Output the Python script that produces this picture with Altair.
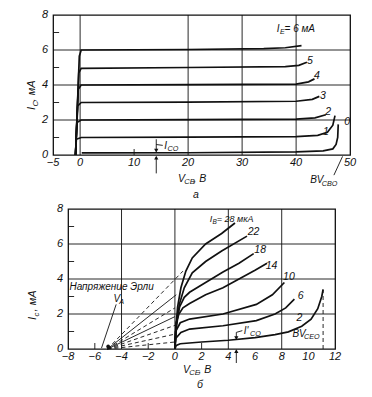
import altair as alt
import pandas as pd

FONT = "Liberation Sans"
INK = "#111111"

# ---------------- (a) common-base characteristics ----------------
cb_x_ticks = [-5, 0, 10, 20, 30, 40, 50]
cb_y_ticks = [0, 2, 4, 6, 8]
cb_vgrid = [0, 20, 30, 40]
cb_hgrid = [2, 4, 6]
cb_minor_y = [1, 3, 5, 7]
cb_minor_x = [10]

cb_names = ["0", "1", "2", "3", "4", "5", "6"]
cb_v0 = [0.3, 20, 40, 45, 46.8, 47.4, 47.7, 47.8]
cb_i0 = [0.12, 0.13, 0.18, 0.24, 0.35, 0.6, 1.0, 1.75]
cb_v1 = [-0.85, -0.7, 0.2, 20, 40, 44, 45.8, 46.8, 47.2]
cb_i1 = [0, 0.9, 1.0, 1.02, 1.05, 1.12, 1.3, 1.7, 2.25]
cb_v2 = [-0.85, -0.6, 0.2, 20, 40, 43.5, 45.5]
cb_i2 = [0, 1.85, 2.0, 2.02, 2.05, 2.12, 2.3]
cb_v3 = [-0.85, -0.45, 0.2, 20, 40, 43, 44.3]
cb_i3 = [0, 2.8, 3.0, 3.02, 3.07, 3.18, 3.35]
cb_v4 = [-0.85, -0.35, 0.2, 20, 40, 42.3, 43.4]
cb_i4 = [0, 3.75, 4.0, 4.02, 4.05, 4.18, 4.35]
cb_v5 = [-0.85, -0.25, 0.2, 20, 38, 40.5, 42]
cb_i5 = [0, 4.7, 4.95, 5.0, 5.05, 5.12, 5.3]
cb_v6 = [-0.85, -0.15, 0.2, 20, 34, 38, 41]
cb_i6 = [0, 5.65, 6.0, 6.03, 6.08, 6.13, 6.25]

# ---------------- (б) common-emitter characteristics ----------------
ce_x_ticks = [-8, -6, -4, -2, 0, 2, 4, 6, 8, 10, 12]
ce_y_ticks = [0, 2, 4, 6, 8]
ce_vgrid = [-4, 0, 4, 8]
ce_hgrid = [2, 4, 6]
ce_minor_y = [1, 3, 5, 7]
ce_minor_x = [-6, -2, 2]

ce_names = ["28", "22", "18", "14", "10", "6", "2"]
ce_v28 = [0, 0.05, 0.2, 0.45, 0.82, 1.3, 2.3, 3.5, 4.5]
ce_i28 = [0, 1.0, 2.4, 3.5, 4.45, 5.2, 6.0, 6.6, 7.2]
ce_v22 = [0, 0.08, 0.33, 0.7, 1.3, 2.3, 3.5, 5.4]
ce_i22 = [0, 1.0, 2.55, 3.5, 4.35, 5.0, 5.6, 6.45]
ce_v18 = [0, 0.1, 0.35, 0.7, 1.1, 2.3, 3.6, 4.8, 5.9]
ce_i18 = [0, 1.5, 2.4, 2.95, 3.24, 3.8, 4.4, 4.9, 5.45]
ce_v14 = [0, 0.1, 0.3, 0.6, 1.1, 2.3, 3.6, 4.8, 6.0, 6.9]
ce_i14 = [0, 1.5, 2.0, 2.35, 2.6, 3.1, 3.5, 4.0, 4.5, 4.9]
ce_v10 = [0, 0.05, 0.4, 1.1, 3.6, 6.1, 7.3, 8.2]
ce_i10 = [0, 1.0, 1.5, 1.71, 2.0, 2.55, 3.1, 3.8]
ce_v6 = [0, 0.05, 0.45, 1.1, 3.6, 6.1, 7.5, 8.3, 8.95]
ce_i6 = [0, 0.6, 0.95, 1.14, 1.33, 1.62, 2.0, 2.35, 2.85]
ce_v2 = [0, 0.1, 0.4, 2, 4, 6, 7.5, 8.5, 9.5, 10.2, 10.7, 11.0, 11.1]
ce_i2 = [0, 0.2, 0.3, 0.4, 0.5, 0.65, 0.82, 0.98, 1.3, 1.7, 2.3, 3.0, 3.4]

# Early-voltage extrapolation fan
fan_v_start = -5.05
fan_v_end = [0.6, 0.1, 0, 0, 0, 0, 0]
fan_i_end = [4.45, 3.1, 2.35, 1.85, 1.35, 0.85, 0.4]
fan_dashed = [True, False, True, False, True, True, True]
bv_ceo_v = 11.1
bv_ceo_i = 3.4


def curves_df(names, vs, is_):
    rows = []
    for n, v, i in zip(names, vs, is_):
        for k, (a, b) in enumerate(zip(v, i)):
            rows.append(dict(curve=n, v=a, i=b, k=k))
    return pd.DataFrame(rows)


def one(**kw):
    return pd.DataFrame({k: [v] for k, v in kw.items()})


NARROW = set("I1 ,.'-")


def seg_width(text, size):
    return sum((0.32 if c in NARROW else 0.58) * size for c in text)


def rich(segs, xenc, yenc, size=10.5, angle=0):
    """segs: list of (text, is_subscript). Returns list of text layers."""
    layers = []
    dx = 0.0
    for text, sub in segs:
        s = size * 0.72 if sub else size
        layers.append(
            alt.Chart(one(t=text)).mark_text(
                text=text, align="left", baseline="middle", dx=dx,
                dy=(size * 0.32 if sub else 0), fontSize=s, fontStyle="italic",
                font=FONT, color=INK, angle=angle,
            ).encode(x=xenc, y=yenc)
        )
        dx += seg_width(text, s) + (0.5 if sub else 0)
    return layers


def spacer(px):
    return alt.Chart(one(t=0)).mark_rule(strokeOpacity=0, color="white").encode(
        x=alt.value(px), x2=alt.value(px + 1), y=alt.value(40))


def X(field, xs):
    return alt.X(field, scale=xs, axis=None, title=None)


def Y(field, ys):
    return alt.Y(field, scale=ys, axis=None, title=None)


def fmt(v):
    return ("−" + str(-v)) if v < 0 else str(v)


def panel(df, xs, ys, xt, yt, vgrid, hgrid, minor_x, minor_y, w, h):
    curves = alt.Chart(df).mark_line(color=INK, strokeWidth=1.7).encode(
        x=X("v:Q", xs), y=Y("i:Q", ys), detail="curve:N", order="k:Q")
    gv = alt.Chart(pd.DataFrame({"g": vgrid})).mark_rule(color=INK, strokeWidth=0.9).encode(
        x=X("g:Q", xs))
    gh = alt.Chart(pd.DataFrame({"g": hgrid})).mark_rule(color=INK, strokeWidth=0.9).encode(
        y=Y("g:Q", ys))
    my = alt.Chart(pd.DataFrame({"m": minor_y})).mark_rule(color=INK, strokeWidth=0.9).encode(
        y=Y("m:Q", ys), x=alt.value(0), x2=alt.value(6))
    mx = alt.Chart(pd.DataFrame({"m": minor_x})).mark_rule(color=INK, strokeWidth=0.9).encode(
        x=X("m:Q", xs), y=alt.value(h), y2=alt.value(h - 6))
    xl = alt.Chart(pd.DataFrame({"t": xt, "s": [fmt(v) for v in xt]})).mark_text(
        font=FONT, fontStyle="italic", fontSize=11, color=INK, align="center",
        baseline="middle").encode(x=X("t:Q", xs), y=alt.value(h + 8), text="s:N")
    yl = alt.Chart(pd.DataFrame({"t": yt, "s": [fmt(v) for v in yt]})).mark_text(
        font=FONT, fontStyle="italic", fontSize=11, color=INK, align="right",
        baseline="middle").encode(y=Y("t:Q", ys), x=alt.value(-5), text="s:N")
    return [curves, gv, gh, my, mx, xl, yl]


def seg(xs, ys, x1, y1, x2, y2, width=0.9, dash=None):
    kw = dict(color=INK, strokeWidth=width)
    if dash:
        kw["strokeDash"] = dash
    return alt.Chart(one(a=x1, b=y1, c=x2, d=y2)).mark_rule(**kw).encode(
        x=X("a:Q", xs), y=Y("b:Q", ys), x2="c:Q", y2="d:Q")


def arrowhead(xs, ys, x, y, shape):
    return alt.Chart(one(a=x, b=y)).mark_point(
        shape=shape, filled=True, size=18, color=INK, opacity=1).encode(
        x=X("a:Q", xs), y=Y("b:Q", ys))


def drich(segs, xs, ys, x, y, size=10.5):
    layers = []
    for lay in rich(segs, X("px:Q", xs), Y("py:Q", ys), size=size):
        lay.data = one(px=x, py=y)
        layers.append(lay)
    return layers


# ---------- panel (a) ----------
WA, HA = 297, 140
xs_a = alt.Scale(domain=[-5, 50], nice=False, zero=False)
ys_a = alt.Scale(domain=[0, 8], nice=False, zero=False)
df_a = curves_df(cb_names, [cb_v0, cb_v1, cb_v2, cb_v3, cb_v4, cb_v5, cb_v6],
                 [cb_i0, cb_i1, cb_i2, cb_i3, cb_i4, cb_i5, cb_i6])
la = panel(df_a, xs_a, ys_a, cb_x_ticks, cb_y_ticks, cb_vgrid, cb_hgrid,
           cb_minor_x, cb_minor_y, WA, HA)
la += drich([("I", False), ("E", True), (" = 6 мА", False)], xs_a, ys_a, 36.4, 7.2, 10)
for t, x, y in [("5", 42.0, 5.4), ("4", 43.3, 4.5), ("3", 44.4, 3.4),
                ("2", 45.4, 2.45), ("1", 45.0, 1.32), ("0", 48.9, 1.9)]:
    la += drich([(t, False)], xs_a, ys_a, x, y, 10.5)
la += drich([("I", False), ("CO", True)], xs_a, ys_a, 15.6, 0.5, 10)
la += drich([("BV", False), ("CBO", True)], xs_a, ys_a, 42.6, -1.45, 10)
la += [seg(xs_a, ys_a, 14.1, 0.9, 14.1, 0.22), arrowhead(xs_a, ys_a, 14.1, 0.25, "triangle-down"),
       seg(xs_a, ys_a, 14.1, -1.05, 14.1, -0.12), arrowhead(xs_a, ys_a, 14.1, -0.15, "triangle-up"),
       seg(xs_a, ys_a, 14.1, 0.6, 15.3, 0.55),
       seg(xs_a, ys_a, 47.0, -1.15, 48.6, -0.08)]
la += rich([("I", False), ("C", True), (", мА", False)], alt.value(-21), alt.value(95), 11, 270)
la += rich([("V", False), ("CB", True), (" , В", False)], alt.value(125), alt.value(164), 10.5)
la += rich([("а", False)], alt.value(140), alt.value(180), 10.5)
la.append(spacer(-44))
chart_a = alt.layer(*la).properties(width=WA, height=HA)

# ---------- panel (б) ----------
WB, HB = 267, 140
xs_b = alt.Scale(domain=[-8, 12], nice=False, zero=False)
ys_b = alt.Scale(domain=[0, 8], nice=False, zero=False)
df_b = curves_df(ce_names, [ce_v28, ce_v22, ce_v18, ce_v14, ce_v10, ce_v6, ce_v2],
                 [ce_i28, ce_i22, ce_i18, ce_i14, ce_i10, ce_i6, ce_i2])
lb = panel(df_b, xs_b, ys_b, ce_x_ticks, ce_y_ticks, ce_vgrid, ce_hgrid,
           ce_minor_x, ce_minor_y, WB, HB)
for ve, ie, dsh in zip(fan_v_end, fan_i_end, fan_dashed):
    lb.append(seg(xs_b, ys_b, fan_v_start, 0, ve, ie, 0.9, [4, 3] if dsh else None))
lb.append(alt.Chart(one(a=-5.0, b=0.15)).mark_point(shape="circle", filled=True, size=14,
                                                    color=INK, opacity=1).encode(
    x=X("a:Q", xs_b), y=Y("b:Q", ys_b)))
lb.append(seg(xs_b, ys_b, bv_ceo_v, 0, bv_ceo_v, bv_ceo_i, 0.9, [4, 3]))
lb.append(seg(xs_b, ys_b, -4.4, 2.55, -5.5, 0.05))
lb += [seg(xs_b, ys_b, 4.6, -0.8, 4.6, -0.08), arrowhead(xs_b, ys_b, 4.6, -0.12, "triangle-up"),
       seg(xs_b, ys_b, 4.6, 0.95, 4.6, 0.62), arrowhead(xs_b, ys_b, 4.6, 0.62, "triangle-down"),
       seg(xs_b, ys_b, 4.6, 0.95, 5.05, 1.05)]
lb += drich([("I", False), ("B", True), (" = 28 мкА", False)], xs_b, ys_b, 2.6, 7.45, 9)
for t, x, y in [("22", 5.45, 6.7), ("18", 5.95, 5.68), ("14", 6.8, 4.76),
                ("10", 8.1, 4.1), ("6", 9.2, 3.05), ("2", 9.1, 1.77)]:
    lb += drich([(t, False)], xs_b, ys_b, x, y, 10.5)
lb += drich([("BV", False), ("CEO", True)], xs_b, ys_b, 8.8, 0.86, 10)
lb += drich([("I'", False), ("CO", True)], xs_b, ys_b, 5.15, 1.05, 10)
lb += drich([("Напряжение Эрли", False)], xs_b, ys_b, -7.9, 3.55, 10)
lb += drich([("V", False), ("A", True)], xs_b, ys_b, -4.6, 2.85, 10)
lb += rich([("I", False), ("c", True), (", мА", False)], alt.value(-35), alt.value(111), 11, 270)
lb += rich([("V", False), ("CE", True), (" , В", False)], alt.value(115), alt.value(161), 10.5)
lb += rich([("б", False)], alt.value(129), alt.value(176), 10.5)
lb.append(spacer(-44))
chart_b = alt.layer(*lb).properties(width=WB, height=HB)

chart = alt.vconcat(chart_a, chart_b, spacing=0, center=True).properties(
    padding={"left": 0, "top": 0, "right": 0, "bottom": 0}, background="white"
).configure_view(stroke=INK, strokeWidth=1.3)

chart.save("out.html", embed_options={"renderer": "svg", "actions": False})
